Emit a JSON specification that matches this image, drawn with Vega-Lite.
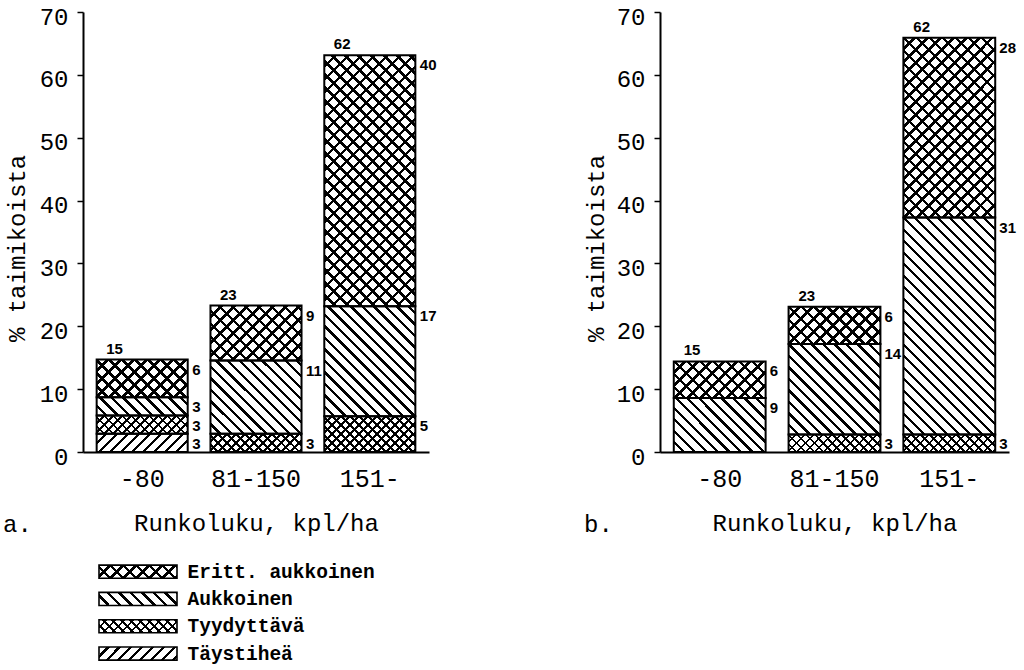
{
 "$schema": "https://vega.github.io/schema/vega-lite/v6.json",
 "padding": {"left": 3, "top": 5, "right": 5, "bottom": 2},
 "background": "white",
 "params": [{"name": "st", "expr": "[{offset:0.024,color:'transparent'},{offset:0.024,color:'black'},{offset:0.0333,color:'black'},{offset:0.0333,color:'transparent'},{offset:0.0573,color:'transparent'},{offset:0.0573,color:'black'},{offset:0.0667,color:'black'},{offset:0.0667,color:'transparent'},{offset:0.0907,color:'transparent'},{offset:0.0907,color:'black'},{offset:0.1,color:'black'},{offset:0.1,color:'transparent'},{offset:0.124,color:'transparent'},{offset:0.124,color:'black'},{offset:0.1333,color:'black'},{offset:0.1333,color:'transparent'},{offset:0.1573,color:'transparent'},{offset:0.1573,color:'black'},{offset:0.1667,color:'black'},{offset:0.1667,color:'transparent'},{offset:0.1907,color:'transparent'},{offset:0.1907,color:'black'},{offset:0.2,color:'black'},{offset:0.2,color:'transparent'},{offset:0.224,color:'transparent'},{offset:0.224,color:'black'},{offset:0.2333,color:'black'},{offset:0.2333,color:'transparent'},{offset:0.2573,color:'transparent'},{offset:0.2573,color:'black'},{offset:0.2667,color:'black'},{offset:0.2667,color:'transparent'},{offset:0.2907,color:'transparent'},{offset:0.2907,color:'black'},{offset:0.3,color:'black'},{offset:0.3,color:'transparent'},{offset:0.324,color:'transparent'},{offset:0.324,color:'black'},{offset:0.3333,color:'black'},{offset:0.3333,color:'transparent'},{offset:0.3573,color:'transparent'},{offset:0.3573,color:'black'},{offset:0.3667,color:'black'},{offset:0.3667,color:'transparent'},{offset:0.3907,color:'transparent'},{offset:0.3907,color:'black'},{offset:0.4,color:'black'},{offset:0.4,color:'transparent'},{offset:0.424,color:'transparent'},{offset:0.424,color:'black'},{offset:0.4333,color:'black'},{offset:0.4333,color:'transparent'},{offset:0.4573,color:'transparent'},{offset:0.4573,color:'black'},{offset:0.4667,color:'black'},{offset:0.4667,color:'transparent'},{offset:0.4907,color:'transparent'},{offset:0.4907,color:'black'},{offset:0.5,color:'black'},{offset:0.5,color:'transparent'},{offset:0.524,color:'transparent'},{offset:0.524,color:'black'},{offset:0.5333,color:'black'},{offset:0.5333,color:'transparent'},{offset:0.5573,color:'transparent'},{offset:0.5573,color:'black'},{offset:0.5667,color:'black'},{offset:0.5667,color:'transparent'},{offset:0.5907,color:'transparent'},{offset:0.5907,color:'black'},{offset:0.6,color:'black'},{offset:0.6,color:'transparent'},{offset:0.624,color:'transparent'},{offset:0.624,color:'black'},{offset:0.6333,color:'black'},{offset:0.6333,color:'transparent'},{offset:0.6573,color:'transparent'},{offset:0.6573,color:'black'},{offset:0.6667,color:'black'},{offset:0.6667,color:'transparent'},{offset:0.6907,color:'transparent'},{offset:0.6907,color:'black'},{offset:0.7,color:'black'},{offset:0.7,color:'transparent'},{offset:0.724,color:'transparent'},{offset:0.724,color:'black'},{offset:0.7333,color:'black'},{offset:0.7333,color:'transparent'},{offset:0.7573,color:'transparent'},{offset:0.7573,color:'black'},{offset:0.7667,color:'black'},{offset:0.7667,color:'transparent'},{offset:0.7907,color:'transparent'},{offset:0.7907,color:'black'},{offset:0.8,color:'black'},{offset:0.8,color:'transparent'},{offset:0.824,color:'transparent'},{offset:0.824,color:'black'},{offset:0.8333,color:'black'},{offset:0.8333,color:'transparent'},{offset:0.8573,color:'transparent'},{offset:0.8573,color:'black'},{offset:0.8667,color:'black'},{offset:0.8667,color:'transparent'},{offset:0.8907,color:'transparent'},{offset:0.8907,color:'black'},{offset:0.9,color:'black'},{offset:0.9,color:'transparent'},{offset:0.924,color:'transparent'},{offset:0.924,color:'black'},{offset:0.9333,color:'black'},{offset:0.9333,color:'transparent'},{offset:0.9573,color:'transparent'},{offset:0.9573,color:'black'},{offset:0.9667,color:'black'},{offset:0.9667,color:'transparent'},{offset:0.9907,color:'transparent'},{offset:0.9907,color:'black'},{offset:1,color:'black'}]"}],
 "datasets": {
  "a": [
   {"x": "-80", "cat": "Täystiheä", "o": 1, "v": 2.9, "lab": 3},
   {"x": "-80", "cat": "Tyydyttävä", "o": 2, "v": 2.9, "lab": 3},
   {"x": "-80", "cat": "Aukkoinen", "o": 3, "v": 2.9, "lab": 3},
   {"x": "-80", "cat": "Eritt. aukkoinen", "o": 4, "v": 6.0, "lab": 6, "tot": 15},
   {"x": "81-150", "cat": "Tyydyttävä", "o": 2, "v": 2.9, "lab": 3},
   {"x": "81-150", "cat": "Aukkoinen", "o": 3, "v": 11.65, "lab": 11},
   {"x": "81-150", "cat": "Eritt. aukkoinen", "o": 4, "v": 8.75, "lab": 9, "tot": 23},
   {"x": "151-", "cat": "Tyydyttävä", "o": 2, "v": 5.7, "lab": 5},
   {"x": "151-", "cat": "Aukkoinen", "o": 3, "v": 17.5, "lab": 17},
   {"x": "151-", "cat": "Eritt. aukkoinen", "o": 4, "v": 39.9, "lab": 40, "tot": 62}
  ],
  "b": [
   {"x": "-80", "cat": "Aukkoinen", "o": 3, "v": 8.6, "lab": 9},
   {"x": "-80", "cat": "Eritt. aukkoinen", "o": 4, "v": 5.8, "lab": 6, "tot": 15},
   {"x": "81-150", "cat": "Tyydyttävä", "o": 2, "v": 2.8, "lab": 3},
   {"x": "81-150", "cat": "Aukkoinen", "o": 3, "v": 14.4, "lab": 14},
   {"x": "81-150", "cat": "Eritt. aukkoinen", "o": 4, "v": 5.9, "lab": 6, "tot": 23},
   {"x": "151-", "cat": "Tyydyttävä", "o": 2, "v": 2.8, "lab": 3},
   {"x": "151-", "cat": "Aukkoinen", "o": 3, "v": 34.5, "lab": 31},
   {"x": "151-", "cat": "Eritt. aukkoinen", "o": 4, "v": 28.6, "lab": 28, "tot": 62}
  ],
  "legend": [
   {"cat": "Eritt. aukkoinen"},
   {"cat": "Aukkoinen"},
   {"cat": "Tyydyttävä"},
   {"cat": "Täystiheä"}
  ]
 },
 "columns": 2,
 "bounds": "flush",
 "spacing": {"row": 106, "column": 231},
 "concat": [
  {
   "data": {"name": "a"},
   "width": 346,
   "height": 440,
   "title": {"text": "a.", "orient": "bottom", "anchor": "start", "frame": "group", "dx": -80, "dy": -22, "offset": 0, "font": "Liberation Mono", "fontSize": 24, "fontWeight": "normal", "color": "black"},
   "encoding": {
    "x": {"field": "x", "type": "nominal", "sort": ["-80", "81-150", "151-"], "scale": {"paddingInner": 0.2, "paddingOuter": 0.12},
          "axis": {"title": "Runkoluku, kpl/ha", "labelAngle": 0, "ticks": false, "tickSize": 0, "labelPadding": 14, "labelFontSize": 25, "titlePadding": 20}}
   },
   "layer": [
    {"mark": {"type": "bar", "fill": {"expr": "{gradient:'linear',stops:st,x1:0,y1:datum.cat=='Täystiheä'?0:1,x2:(datum.cat=='Eritt. aukkoinen'?390:datum.cat=='Aukkoinen'?345:datum.cat=='Tyydyttävä'?270:331)*91/(8281+pow(datum.v*6.286,2)),y2:datum.cat=='Täystiheä'?331*datum.v*6.286/(8281+pow(datum.v*6.286,2)):1-(datum.cat=='Eritt. aukkoinen'?390:datum.cat=='Aukkoinen'?345:270)*datum.v*6.286/(8281+pow(datum.v*6.286,2))}"}},
     "encoding": {
      "y": {"field": "v", "type": "quantitative", "stack": "zero", "scale": {"domain": [0, 70], "nice": false},
            "axis": {"title": "% taimikoista", "values": [0, 5, 10, 15, 20, 25, 30, 35, 40, 45, 50, 55, 60, 65, 70], "labelExpr": "datum.value % 10 == 0 ? datum.label : ''", "tickSize": {"condition": {"test": "datum.value % 10 == 0", "value": 6}, "value": 3}, "labelPadding": 9, "labelOffset": 5, "labelBaseline": "middle", "titleX": -66, "titleY": 236, "titleBaseline": "middle", "titleAngle": -90}},
      "detail": {"field": "cat"},
      "order": {"field": "o", "type": "quantitative"}
     }},
    {"mark": {"type": "bar", "stroke": "black", "strokeWidth": 2, "fill": {"expr": "datum.cat=='Eritt. aukkoinen'||datum.cat=='Tyydyttävä'?{gradient:'linear',stops:st,x1:0,y1:0,x2:(datum.cat=='Tyydyttävä'?270:390)*91/(8281+pow(datum.v*6.286,2)),y2:(datum.cat=='Tyydyttävä'?270:390)*datum.v*6.286/(8281+pow(datum.v*6.286,2))}:'transparent'"}},
     "encoding": {
      "y": {"field": "v", "type": "quantitative", "stack": "zero", "axis": {"title": "% taimikoista"}},
      "detail": {"field": "cat"},
      "order": {"field": "o", "type": "quantitative"}
     }},
    {"mark": {"type": "text", "align": "left", "baseline": "top", "dx": 50, "dy": 3, "font": "Liberation Sans", "fontWeight": "bold", "fontSize": 15, "color": "black"},
     "encoding": {
      "y": {"field": "v", "type": "quantitative", "stack": "zero", "axis": {"title": "% taimikoista"}},
      "detail": {"field": "cat"},
      "order": {"field": "o", "type": "quantitative"},
      "text": {"field": "lab", "type": "quantitative"}
     }},
    {"mark": {"type": "text", "align": "left", "baseline": "alphabetic", "dx": -36, "dy": -6, "font": "Liberation Sans", "fontWeight": "bold", "fontSize": 15, "color": "black"},
     "encoding": {
      "y": {"aggregate": "sum", "field": "v", "type": "quantitative", "axis": {"title": "% taimikoista"}},
      "text": {"aggregate": "max", "field": "tot", "type": "quantitative"}
     }}
   ]
  },
  {
   "data": {"name": "b"},
   "width": 349,
   "height": 440,
   "title": {"text": "b.", "orient": "bottom", "anchor": "start", "frame": "group", "dx": -76, "dy": -22, "offset": 0, "font": "Liberation Mono", "fontSize": 24, "fontWeight": "normal", "color": "black"},
   "encoding": {
    "x": {"field": "x", "type": "nominal", "sort": ["-80", "81-150", "151-"], "scale": {"paddingInner": 0.2, "paddingOuter": 0.12},
          "axis": {"title": "Runkoluku, kpl/ha", "labelAngle": 0, "ticks": false, "tickSize": 0, "labelPadding": 14, "labelFontSize": 25, "titlePadding": 20}}
   },
   "layer": [
    {"mark": {"type": "bar", "fill": {"expr": "{gradient:'linear',stops:st,x1:0,y1:datum.cat=='Täystiheä'?0:1,x2:(datum.cat=='Eritt. aukkoinen'?390:datum.cat=='Aukkoinen'?345:datum.cat=='Tyydyttävä'?270:331)*92/(8464+pow(datum.v*6.286,2)),y2:datum.cat=='Täystiheä'?331*datum.v*6.286/(8464+pow(datum.v*6.286,2)):1-(datum.cat=='Eritt. aukkoinen'?390:datum.cat=='Aukkoinen'?345:270)*datum.v*6.286/(8464+pow(datum.v*6.286,2))}"}},
     "encoding": {
      "y": {"field": "v", "type": "quantitative", "stack": "zero", "scale": {"domain": [0, 70], "nice": false},
            "axis": {"title": "% taimikoista", "values": [0, 5, 10, 15, 20, 25, 30, 35, 40, 45, 50, 55, 60, 65, 70], "labelExpr": "datum.value % 10 == 0 ? datum.label : ''", "tickSize": {"condition": {"test": "datum.value % 10 == 0", "value": 6}, "value": 3}, "labelPadding": 9, "labelOffset": 5, "labelBaseline": "middle", "titleX": -64, "titleY": 236, "titleBaseline": "middle", "titleAngle": -90}},
      "detail": {"field": "cat"},
      "order": {"field": "o", "type": "quantitative"}
     }},
    {"mark": {"type": "bar", "stroke": "black", "strokeWidth": 2, "fill": {"expr": "datum.cat=='Eritt. aukkoinen'||datum.cat=='Tyydyttävä'?{gradient:'linear',stops:st,x1:0,y1:0,x2:(datum.cat=='Tyydyttävä'?270:390)*92/(8464+pow(datum.v*6.286,2)),y2:(datum.cat=='Tyydyttävä'?270:390)*datum.v*6.286/(8464+pow(datum.v*6.286,2))}:'transparent'"}},
     "encoding": {
      "y": {"field": "v", "type": "quantitative", "stack": "zero", "axis": {"title": "% taimikoista"}},
      "detail": {"field": "cat"},
      "order": {"field": "o", "type": "quantitative"}
     }},
    {"mark": {"type": "text", "align": "left", "baseline": "top", "dx": 50, "dy": 3, "font": "Liberation Sans", "fontWeight": "bold", "fontSize": 15, "color": "black"},
     "encoding": {
      "y": {"field": "v", "type": "quantitative", "stack": "zero", "axis": {"title": "% taimikoista"}},
      "detail": {"field": "cat"},
      "order": {"field": "o", "type": "quantitative"},
      "text": {"field": "lab", "type": "quantitative"}
     }},
    {"mark": {"type": "text", "align": "left", "baseline": "alphabetic", "dx": -36, "dy": -6, "font": "Liberation Sans", "fontWeight": "bold", "fontSize": 15, "color": "black"},
     "encoding": {
      "y": {"aggregate": "sum", "field": "v", "type": "quantitative", "axis": {"title": "% taimikoista"}},
      "text": {"aggregate": "max", "field": "tot", "type": "quantitative"}
     }}
   ]
  },
  {
   "data": {"name": "legend"},
   "width": 94,
   "height": {"step": 27.3},
   "encoding": {
    "x": {"datum": "symbol", "type": "nominal", "scale": {"paddingInner": 0, "paddingOuter": 0.1026, "align": 1}, "axis": null},
    "y": {"field": "cat", "type": "nominal", "sort": ["Eritt. aukkoinen", "Aukkoinen", "Tyydyttävä", "Täystiheä"], "scale": {"paddingInner": 0.52, "paddingOuter": 0.26},
          "axis": {"orient": "right", "title": null, "ticks": false, "domain": false, "labelPadding": 10, "labelLimit": 400, "labelAlign": "left", "labelFontSize": 19.5, "labelFontWeight": "bold"}}
   },
   "layer": [
    {"mark": {"type": "bar", "fill": {"expr": "{gradient:'linear',stops:st,x1:0,y1:datum.cat=='Täystiheä'?0:1,x2:(datum.cat=='Eritt. aukkoinen'?390:datum.cat=='Aukkoinen'?345:datum.cat=='Tyydyttävä'?270:331)*78/6253,y2:datum.cat=='Täystiheä'?331*13/6253:1-(datum.cat=='Eritt. aukkoinen'?390:datum.cat=='Aukkoinen'?345:270)*13/6253}"}}},
    {"mark": {"type": "bar", "stroke": "black", "strokeWidth": 1.6, "fill": {"expr": "datum.cat=='Eritt. aukkoinen'||datum.cat=='Tyydyttävä'?{gradient:'linear',stops:st,x1:0,y1:0,x2:(datum.cat=='Tyydyttävä'?270:390)*78/6253,y2:(datum.cat=='Tyydyttävä'?270:390)*13/6253}:'transparent'"}}}
   ]
  }
 ],
 "config": {
  "view": {"stroke": null},
  "font": "Liberation Mono",
  "axis": {"domainColor": "black", "domainWidth": 2, "tickColor": "black", "tickWidth": 1.5, "labelColor": "black", "titleColor": "black", "labelFont": "Liberation Mono", "titleFont": "Liberation Mono", "labelFontSize": 24, "titleFontSize": 24, "titleFontWeight": "normal", "grid": false}
 }
}
